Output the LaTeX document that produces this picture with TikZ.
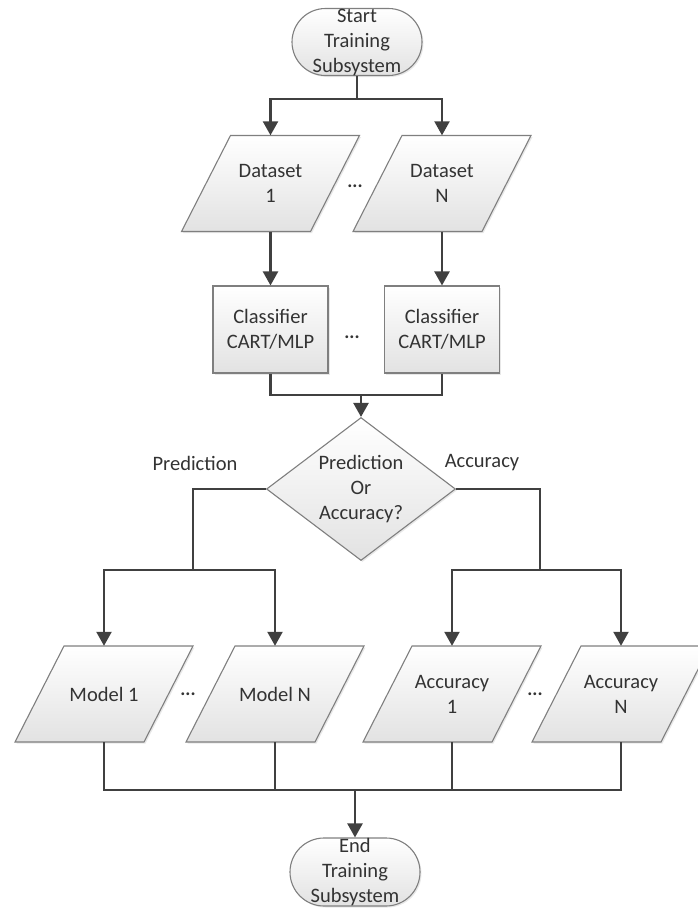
\documentclass[tikz,border=0pt]{standalone}
\usepackage{fontspec}
\setmainfont{Carlito}
\usetikzlibrary{arrows.meta,shapes.geometric,shapes.misc,calc,shadows}
\definecolor{linecol}{HTML}{404040}
\definecolor{bordercol}{HTML}{7F7F7F}
\definecolor{fillbot}{HTML}{E2E2E2}
\definecolor{txtcol}{HTML}{333333}
\newcommand\paranode[4]{%
  \path[shapefill] ({#2-40},{#3-48}) -- ({#2+89},{#3-48}) -- ({#2+40},{#3+48}) -- ({#2-89},{#3+48}) -- cycle;
  \node[parabox] (#1) at (#2,#3) {#4};
}
\begin{document}
\begin{tikzpicture}[x=1pt,y=-1pt,
  every node/.style={font=\fontsize{20.5}{25}\selectfont, text=txtcol},
  shapefill/.style={draw=bordercol, line width=1.1pt, top color=white, bottom color=fillbot,
    drop shadow={shadow xshift=1.5pt, shadow yshift=-1.5pt, opacity=0.18, fill=gray}},
  term/.style={shapefill, rounded rectangle, minimum width=130pt, minimum height=67pt, inner sep=0pt},
  procbox/.style={shapefill, rectangle, minimum width=115pt, minimum height=87pt, align=center, inner sep=0pt},
  decbox/.style={shapefill, diamond, minimum width=189pt, minimum height=143pt, inner sep=0pt},
  parabox/.style={rectangle, minimum width=129pt, minimum height=96pt, inner sep=0pt, align=center},
  conn/.style={draw=linecol, line width=2.3pt},
  arr/.style={conn, -{Triangle[length=14pt,width=15pt]}},
  dotsnode/.style={font=\fontsize{19}{24}\bfseries\selectfont},
]
\useasboundingbox (0,0) rectangle (698,908);
\clip (0,0) rectangle (698,908);

% terminators
\node[term, label={[align=center]center:Start\\Training\\Subsystem}] (start) at (357,42) {};
\node[term, minimum height=68pt, label={[align=center]center:End\\Training\\Subsystem}] (end) at (355,872) {};

% datasets
\paranode{d1}{270.5}{183.5}{Dataset\\1}
\paranode{dN}{442}{183.5}{Dataset\\N}
\node[dotsnode] (dotsA) at (355,186) {...};

% classifiers
\node[procbox] (c1) at (270.5,329.5) {Classifier\\CART/MLP};
\node[procbox] (cN) at (442,329.5) {Classifier\\CART/MLP};
\node[dotsnode] (dotsB) at (352,337) {...};

% decision
\node[decbox, label={[align=center]center:Prediction\\Or\\Accuracy?}] (dec) at (361,489) {};
\node (lp) at (195,463) {Prediction};
\node (la) at (482,463) {Accuracy};

% outputs
\paranode{m1}{104}{694}{Model 1}
\paranode{mN}{275}{694}{Model N}
\paranode{a1}{452}{694}{Accuracy\\1}
\paranode{aN}{621}{694}{Accuracy\\N}
\node[dotsnode] (dotsC) at (188,694) {...};
\node[dotsnode] (dotsD) at (535,694) {...};

% connectors
\coordinate (sj) at (357,99);
\draw[conn] (start.south) -- (sj);
\draw[arr] (sj) -| (d1.north);
\draw[arr] (sj) -| (dN.north);

\draw[arr] (d1.south) -- (c1.north);
\draw[arr] (dN.south) -- (cN.north);

\coordinate (mj) at (361,395);
\draw[conn] (c1.south) |- (mj) -| (cN.south);
\draw[arr] (mj) -- (dec.north);

\coordinate (pj) at (193,570);
\coordinate (aj) at (540,570);
\draw[conn] (dec.west) -| (pj);
\draw[arr] (pj) -| (m1.north);
\draw[arr] (pj) -| (mN.north);
\draw[conn] (dec.east) -| (aj);
\draw[arr] (aj) -| (a1.north);
\draw[arr] (aj) -| (aN.north);

\coordinate (ej) at (355,790);
\draw[conn] (m1.south) |- (ej) -| (aN.south);
\draw[conn] (mN.south) -- (mN.south |- ej);
\draw[conn] (a1.south) -- (a1.south |- ej);
\draw[arr] (ej) -- (end.north);
\end{tikzpicture}
\end{document}
